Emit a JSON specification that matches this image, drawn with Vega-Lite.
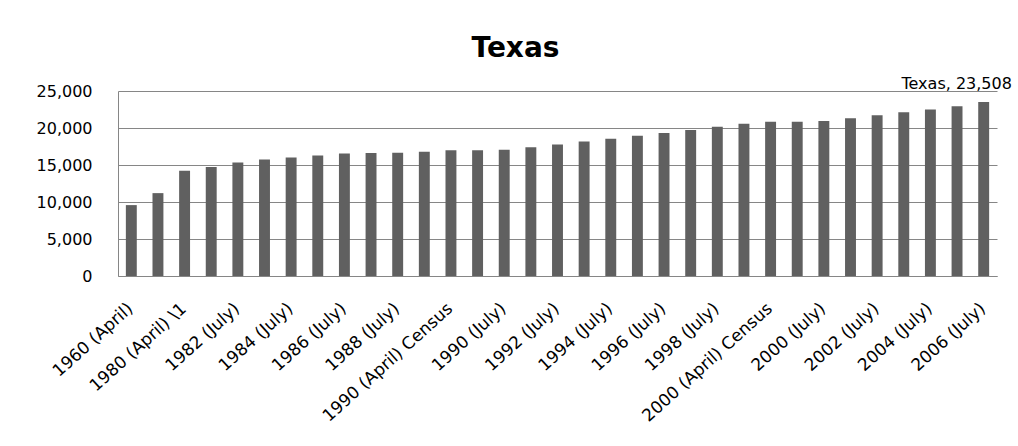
{
  "$schema": "https://vega.github.io/schema/vega-lite/v6.json",
  "autosize": {"type": "none"},
  "width": 879,
  "height": 185,
  "padding": {"left": 118, "top": 91, "right": 21, "bottom": 170},
  "background": "white",
  "title": {
    "text": "Texas",
    "font": "DejaVu Sans",
    "fontSize": 28,
    "fontWeight": "bold",
    "color": "black",
    "anchor": "middle",
    "frame": "group",
    "dx": -42,
    "offset": 13
  },
  "data": {
    "values": [
      {"year": "1960 (April)", "value": 9580},
      {"year": "1970 (April)", "value": 11199},
      {"year": "1980 (April) \\1", "value": 14229},
      {"year": "1981 (July)", "value": 14746},
      {"year": "1982 (July)", "value": 15331},
      {"year": "1983 (July)", "value": 15752},
      {"year": "1984 (July)", "value": 16007},
      {"year": "1985 (July)", "value": 16273},
      {"year": "1986 (July)", "value": 16561},
      {"year": "1987 (July)", "value": 16622},
      {"year": "1988 (July)", "value": 16667},
      {"year": "1989 (July)", "value": 16807},
      {"year": "1990 (April) Census", "value": 16986},
      {"year": "1990 (April) Estimates Base", "value": 16986},
      {"year": "1990 (July)", "value": 17057},
      {"year": "1991 (July)", "value": 17398},
      {"year": "1992 (July)", "value": 17760},
      {"year": "1993 (July)", "value": 18161},
      {"year": "1994 (July)", "value": 18564},
      {"year": "1995 (July)", "value": 18959},
      {"year": "1996 (July)", "value": 19340},
      {"year": "1997 (July)", "value": 19740},
      {"year": "1998 (July)", "value": 20158},
      {"year": "1999 (July)", "value": 20558},
      {"year": "2000 (April) Census", "value": 20852},
      {"year": "2000 (April) Estimates Base", "value": 20852},
      {"year": "2000 (July)", "value": 20946},
      {"year": "2001 (July)", "value": 21320},
      {"year": "2002 (July)", "value": 21737},
      {"year": "2003 (July)", "value": 22119},
      {"year": "2004 (July)", "value": 22490},
      {"year": "2005 (July)", "value": 22929},
      {"year": "2006 (July)", "value": 23508}
    ]
  },
  "encoding": {
    "x": {
      "field": "year",
      "type": "nominal",
      "sort": null,
      "scale": {"paddingInner": 0.59, "paddingOuter": 0.295},
      "axis": {
        "title": null,
        "values": ["1960 (April)", "1980 (April) \\1", "1982 (July)", "1984 (July)", "1986 (July)", "1988 (July)", "1990 (April) Census", "1990 (July)", "1992 (July)", "1994 (July)", "1996 (July)", "1998 (July)", "2000 (April) Census", "2000 (July)", "2002 (July)", "2004 (July)", "2006 (July)"],
        "labelAngle": -42,
        "labelFont": "DejaVu Sans",
        "labelFontSize": 17,
        "labelColor": "black",
        "labelPadding": 24,
        "labelOffset": -6,
        "ticks": false,
        "domainColor": "#868686",
        "domainWidth": 1,
        "labelOverlap": false
      }
    },
    "y": {
      "field": "value",
      "type": "quantitative",
      "scale": {"domain": [0, 25000], "nice": false},
      "axis": {
        "title": null,
        "values": [0, 5000, 10000, 15000, 20000, 25000],
        "format": ",.0f",
        "labelFont": "DejaVu Sans",
        "labelFontSize": 16,
        "labelColor": "black",
        "labelPadding": 26,
        "ticks": false,
        "grid": true,
        "gridColor": "#868686",
        "gridWidth": 1,
        "domainColor": "#868686"
      }
    }
  },
  "layer": [
    {"mark": {"type": "bar", "color": "#606060"}},
    {
      "transform": [
        {"filter": "datum.year == '2006 (July)'"},
        {"calculate": "'Texas, ' + format(datum.value, ',')", "as": "label"}
      ],
      "mark": {"type": "text", "font": "DejaVu Sans", "fontSize": 16, "color": "black", "baseline": "alphabetic", "align": "center", "dx": -27, "dy": -13},
      "encoding": {"text": {"field": "label"}}
    }
  ],
  "config": {"view": {"stroke": null}}
}
